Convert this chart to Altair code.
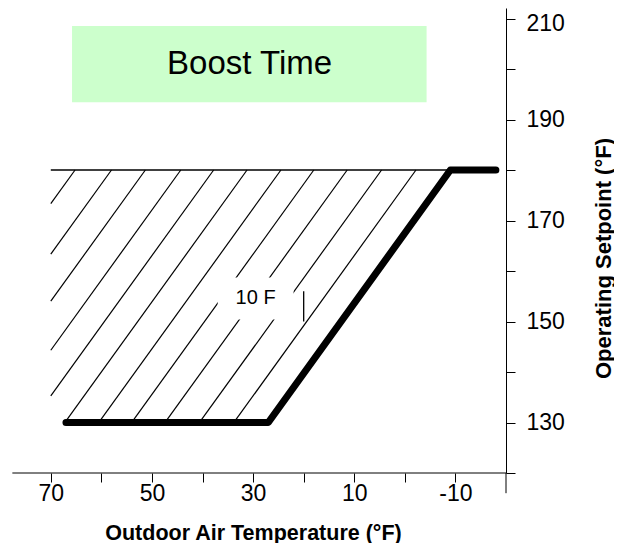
import altair as alt
import pandas as pd

FONT = "Liberation Sans"

# ---- data ----
x_domain = [-20, 78.46]         # outdoor air temperature (reversed axis)
y_domain = [120, 212.08]        # operating setpoint
x_ticks = [-10, 0, 10, 20, 30, 40, 50, 60, 70]
y_ticks = [120, 130, 140, 150, 160, 170, 180, 190, 200, 210]
x_axis_line = [77.6, -20]       # drawn extent of the x axis line

# reset curve (thick line)
curve_oat = [67, 27, -9, -18]
curve_sp = [130, 130, 180, 180]

# hatched band: top boundary, left boundary, bottom boundary
band_top = 180
band_bottom = 130.6
band_left = 70
band_top_right = -9
# x positions where each hatch line meets the top boundary
hatch_top_x = [-2.2, 4.6, 11.4, 18.0, 24.5, 31.2, 37.8, 44.3, 51.3, 58.0, 65.2]
# hatch lines run parallel to the sloped part of the curve
hatch_run = (curve_oat[1] - curve_oat[2]) / (curve_sp[2] - curve_sp[1])

# "10 F" note
note_text = ["10 F"]
note_box_x = [37, 22]
note_box_y = [150.4, 158.7]
note_pos = [29.5, 154.6]
note_tick_x = 20
note_tick_y = [150, 156]

# "Boost Time" box
boost_text = ["Boost Time"]
boost_box_x = [65.8, -4.3]
boost_box_y = [193.4, 208.5]
boost_pos = [30.7, 201.0]

# axis extension below the x axis
yaxis_ext = [116, 120]

# ---- build tables ----
segs = []
for i, xt in enumerate(hatch_top_x):
    y_end = max(band_bottom, band_top - (band_left - xt) / hatch_run)
    x_end = xt + (band_top - y_end) * hatch_run
    segs.append({"x": xt, "y": band_top, "x2": x_end, "y2": y_end})
hatch_df = pd.DataFrame(segs)

curve_df = pd.DataFrame({"x": curve_oat, "y": curve_sp, "o": range(len(curve_oat))})


def X(field="x"):
    return alt.X(
        f"{field}:Q",
        scale=alt.Scale(domain=x_domain, reverse=True, nice=False, zero=False),
        axis=alt.Axis(
            orient="bottom",
            values=x_ticks,
            labelExpr="(datum.value + 100) % 20 == 10 ? ((datum.value < 0 ? '-' : '') + abs(datum.value)) : ''",
            grid=False,
            domain=False,
            tickSize=9,
            tickColor="black",
            labelFont=FONT,
            labelFontSize=23,
            labelColor="black",
            labelPadding=0,
            labelFlush=False,
            labelOverlap=False,
            title="Outdoor Air Temperature (°F)",
            titleFont=FONT,
            titleFontSize=21.5,
            titleFontWeight="bold",
            titleColor="black",
            titleX=245,
            titleY=66,
            titleAlign="center",
            titleBaseline="alphabetic",
        ),
    )


def Y(field="y"):
    return alt.Y(
        f"{field}:Q",
        scale=alt.Scale(domain=y_domain, nice=False, zero=False),
        axis=alt.Axis(
            orient="right",
            values=y_ticks,
            labelExpr="datum.value % 20 == 10 ? datum.label : ''",
            grid=False,
            tickSize=9,
            tickColor="black",
            domainColor="black",
            labelFont=FONT,
            labelFontSize=23,
            labelColor="black",
            labelPadding=11,
            labelOffset={"condition": {"test": "datum.value >= 210", "value": 5}, "value": 0},
            labelFlush=False,
            labelOverlap=False,
            title="Operating Setpoint (°F)",
            titleFont=FONT,
            titleFontSize=22,
            titleFontWeight="bold",
            titleColor="black",
            titleAngle=270,
            titleX=97,
            titleY=250,
            titleAlign="center",
            titleBaseline="middle",
        ),
    )


hatch = alt.Chart(hatch_df).mark_rule(color="black", strokeWidth=1.2).encode(
    x=X("x"), y=Y("y"), x2="x2:Q", y2="y2:Q"
)

top_line = alt.Chart(pd.DataFrame({"x": [band_left], "x2": [band_top_right], "y": [band_top]})).mark_rule(
    color="black", strokeWidth=1.3
).encode(x=X("x"), x2="x2:Q", y=Y("y"))

note_box = alt.Chart(pd.DataFrame({"x": [note_box_x[0]], "x2": [note_box_x[1]],
                                   "y": [note_box_y[0]], "y2": [note_box_y[1]]})).mark_rect(
    color="white"
).encode(x=X("x"), x2="x2:Q", y=Y("y"), y2="y2:Q")

note = alt.Chart(pd.DataFrame({"x": [note_pos[0]], "y": [note_pos[1]], "t": note_text})).mark_text(
    font=FONT, fontSize=20, color="black", align="center", baseline="middle"
).encode(x=X("x"), y=Y("y"), text="t:N")

note_tick = alt.Chart(pd.DataFrame({"x": [note_tick_x], "y": [note_tick_y[0]], "y2": [note_tick_y[1]]})).mark_rule(
    color="black", strokeWidth=1.3
).encode(x=X("x"), y=Y("y"), y2="y2:Q")

curve = alt.Chart(curve_df).mark_line(
    color="black", strokeWidth=7, strokeCap="round", strokeJoin="round"
).encode(x=X("x"), y=Y("y"), order="o:Q")

boost_box = alt.Chart(pd.DataFrame({"x": [boost_box_x[0]], "x2": [boost_box_x[1]],
                                    "y": [boost_box_y[0]], "y2": [boost_box_y[1]]})).mark_rect(
    color="#CCFFCC"
).encode(x=X("x"), x2="x2:Q", y=Y("y"), y2="y2:Q")

boost = alt.Chart(pd.DataFrame({"x": [boost_pos[0]], "y": [boost_pos[1]], "t": boost_text})).mark_text(
    font=FONT, fontSize=33, color="black", align="center", baseline="middle"
).encode(x=X("x"), y=Y("y"), text="t:N")

axis_ext = alt.Chart(pd.DataFrame({"x": [x_domain[0]], "y": [yaxis_ext[0]], "y2": [yaxis_ext[1]]})).mark_rule(
    color="black", strokeWidth=1
).encode(x=X("x"), y=Y("y"), y2="y2:Q")

x_line = alt.Chart(pd.DataFrame({"x": [x_axis_line[0]], "x2": [x_axis_line[1]], "y": [y_domain[0]]})).mark_rule(
    color="black", strokeWidth=1
).encode(x=X("x"), x2="x2:Q", y=Y("y"))

chart = alt.layer(
    boost_box, boost, hatch, note_box, note, note_tick, top_line, curve, axis_ext, x_line
).properties(
    width=498,
    height=465,
    autosize=alt.AutoSizeParams(type="none"),
    padding={"left": 0, "top": 0, "right": 108, "bottom": 70},
).configure_view(stroke=None)

chart.save("out.html", embed_options={"renderer": "svg", "actions": False})
